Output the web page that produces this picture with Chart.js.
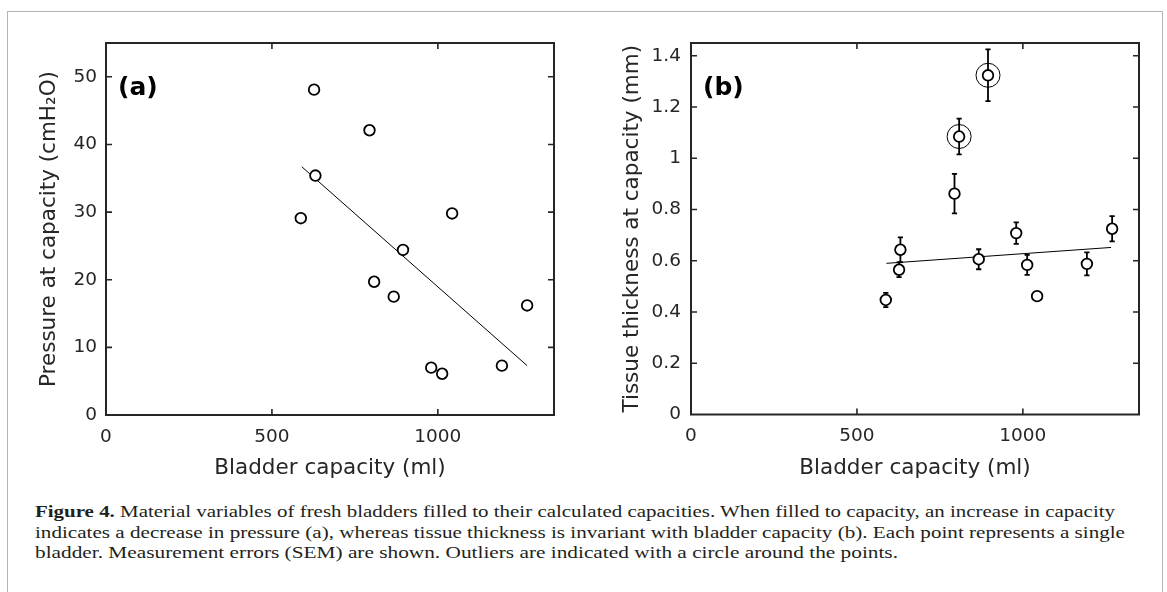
<!DOCTYPE html>
<html>
<head>
<meta charset="utf-8">
<script src="https://cdn.jsdelivr.net/npm/chart.js@4.4.1/dist/chart.umd.min.js"></script>
<style>
  body { margin: 0; background: #fff; }
  #wrap { position: relative; width: 1167px; height: 592px; overflow: hidden; }
  #frame { position: absolute; left: 7px; top: 11px; width: 1154px; height: 640px; border: 1.5px solid #b4b4b4; }
  canvas { position: absolute; top: 0; }
  #grafico1 { left: 0; }
  #grafico2 { left: 580px; }
  .leg { position: absolute; left: 35px; white-space: nowrap; font: 16.5px 'Liberation Serif', serif; color: #231f20; line-height: 20px; transform-origin: 0 50%; }
</style>
</head>
<body>
<div id="wrap">
  <div id="frame"></div>
  <canvas id="grafico1" width="575" height="490"></canvas>
  <canvas id="grafico2" width="580" height="490"></canvas>
  <div class="leg" style="top:502px" data-w="1080"><b>Figure 4.</b> Material variables of fresh bladders filled to their calculated capacities. When filled to capacity, an increase in capacity</div>
  <div class="leg" style="top:522.5px" data-w="1090">indicates a decrease in pressure (a), whereas tissue thickness is invariant with bladder capacity (b). Each point represents a single</div>
  <div class="leg" style="top:543px" data-w="863">bladder. Measurement errors (SEM) are shown. Outliers are indicated with a circle around the points.</div>
</div>
<script>
// valores
const capacidade = [587, 627, 631, 794, 808, 867, 895, 980, 1013, 1043, 1193, 1269]
const pressao = [29.1, 48.1, 35.4, 42.1, 19.7, 17.5, 24.4, 7.0, 6.1, 29.8, 7.3, 16.2]
const espessura = [0.447, 0.565, 0.643, 0.862, 1.085, 0.606, 1.324, 0.708, 0.584, 0.462, 0.588, 0.725]
const erroEspessura = [0.028, 0.029, 0.048, 0.077, 0.070, 0.039, 0.101, 0.042, 0.039, 0.012, 0.045, 0.049]
const outliers = [4, 6]

const retaPressaoX = [590, 1269]
const retaPressaoY = [36.7, 7.3]
const retaEspessuraX = [589, 1266]
const retaEspessuraY = [0.590, 0.652]

const ticksX = [0, 500, 1000]
const ticksPressao = [0, 10, 20, 30, 40, 50]
const ticksEspessura = [0, 0.2, 0.4, 0.6, 0.8, 1, 1.2, 1.4]

const cor = '#262626'
Chart.defaults.font.family = "'DejaVu Sans', sans-serif"
Chart.defaults.color = cor

const pares = (xs, ys) => xs.map((v, i) => ({ x: v, y: ys[i] }))

// caixa estilo matlab, ticks para dentro, barras de erro e rotulo
const moldura = {
    id: 'moldura',
    beforeDatasetsDraw(chart, args, opts) {
        if (!opts.erros) return
        const { ctx, scales: { x, y } } = chart
        ctx.save()
        ctx.strokeStyle = '#000'
        ctx.lineWidth = 1.8
        opts.erros.forEach((e, i) => {
            const px = x.getPixelForValue(capacidade[i])
            const yt = y.getPixelForValue(espessura[i] + e)
            const yb = y.getPixelForValue(espessura[i] - e)
            ctx.beginPath()
            ctx.moveTo(px, yt); ctx.lineTo(px, yb)
            ctx.moveTo(px - 2.6, yt); ctx.lineTo(px + 2.6, yt)
            ctx.moveTo(px - 2.6, yb); ctx.lineTo(px + 2.6, yb)
            ctx.stroke()
        })
        ctx.restore()
    },
    afterDraw(chart, args, opts) {
        const { ctx, chartArea: a, scales: { x, y } } = chart
        ctx.save()
        ctx.strokeStyle = cor
        ctx.lineWidth = 2
        ctx.strokeRect(a.left, a.top, a.right - a.left, a.bottom - a.top)
        ctx.lineWidth = 1.6
        ctx.beginPath()
        x.ticks.forEach(t => {
            const px = x.getPixelForValue(t.value)
            if (px <= a.left + 1) return
            ctx.moveTo(px, a.bottom); ctx.lineTo(px, a.bottom - 6)
            ctx.moveTo(px, a.top); ctx.lineTo(px, a.top + 6)
        })
        y.ticks.forEach(t => {
            const py = y.getPixelForValue(t.value)
            if (py >= a.bottom - 1) return
            ctx.moveTo(a.left, py); ctx.lineTo(a.left + 6, py)
            ctx.moveTo(a.right, py); ctx.lineTo(a.right - 6, py)
        })
        ctx.stroke()
        ctx.fillStyle = '#000'
        ctx.font = "bold 25px 'DejaVu Sans', sans-serif"
        ctx.textBaseline = 'middle'
        ctx.fillText(opts.rotulo, a.left + opts.dx, 88)
        ctx.restore()
    }
}

const eixoX = (altura) => ({
    type: 'linear', min: 0, max: 1350,
    afterBuildTicks: s => { s.ticks = ticksX.map(v => ({ value: v })) },
    afterFit: s => { s.height = altura },
    grid: { display: false, drawTicks: false },
    border: { display: false },
    ticks: { padding: 11, maxRotation: 0, font: { size: 18.5 }, callback: v => String(v) },
    title: { display: true, text: 'Bladder capacity (ml)', font: { size: 21.5 }, padding: { top: 0, bottom: 9 } }
})

const eixoY = (max, ticks, largura, titulo, padTitulo, padTicks) => ({
    type: 'linear', min: 0, max: max,
    afterBuildTicks: s => { s.ticks = ticks.map(v => ({ value: v })) },
    afterFit: s => { s.width = largura },
    grid: { display: false, drawTicks: false },
    border: { display: false },
    ticks: { padding: padTicks, font: { size: 18.5 }, callback: v => String(v) },
    title: { display: true, text: titulo, font: { size: 21.5 }, padding: { top: padTitulo, bottom: 0 } }
})

const pontos = {
    pointRadius: 5.3, pointHoverRadius: 5.3, pointBorderWidth: 1.8,
    pointBackgroundColor: '#fff', pointBorderColor: '#000', showLine: false
}

let grafico = new Chart(document.getElementById('grafico1'), {
    type: 'scatter',
    data: {
        datasets: [
            { label: 'Pressure', data: pares(capacidade, pressao), ...pontos },
            { label: 'Fit', data: pares(retaPressaoX, retaPressaoY), showLine: true, pointRadius: 0, borderColor: '#000', borderWidth: 1 }
        ]
    },
    options: {
        responsive: false, animation: false,
        layout: { padding: { left: 0, top: 43, right: 21, bottom: 0 } },
        scales: {
            x: eixoX(75),
            y: eixoY(55, ticksPressao, 106, 'Pressure at capacity (cmH\u2082O)', 37, 9)
        },
        plugins: { legend: { display: false }, tooltip: { enabled: false }, moldura: { rotulo: '(a)', dx: 12 } }
    },
    plugins: [moldura]
})

let grafico2 = new Chart(document.getElementById('grafico2'), {
    type: 'scatter',
    data: {
        datasets: [
            { label: 'Thickness', data: pares(capacidade, espessura), ...pontos },
            { label: 'Outliers', data: outliers.map(i => ({ x: capacidade[i], y: espessura[i] })), pointRadius: 12, pointHoverRadius: 12, pointBorderWidth: 1, pointBorderColor: '#000', pointBackgroundColor: 'rgba(0,0,0,0)' },
            { label: 'Fit', data: pares(retaEspessuraX, retaEspessuraY), showLine: true, pointRadius: 0, borderColor: '#000', borderWidth: 1 }
        ]
    },
    options: {
        responsive: false, animation: false,
        layout: { padding: { left: 0, top: 43, right: 21, bottom: 0 } },
        scales: {
            x: eixoX(75.5),
            y: eixoY(1.45, ticksEspessura, 111, 'Tissue thickness at capacity (mm)', 40, 10)
        },
        plugins: { legend: { display: false }, tooltip: { enabled: false }, moldura: { rotulo: '(b)', dx: 12, erros: erroEspessura } }
    },
    plugins: [moldura]
})

// estica as linhas da legenda ate a largura da figura
document.querySelectorAll('.leg').forEach(el => {
    const alvo = +el.dataset.w
    const w = el.getBoundingClientRect().width
    el.style.transform = 'scaleX(' + (alvo / w) + ')'
})
</script>
</body>
</html>
